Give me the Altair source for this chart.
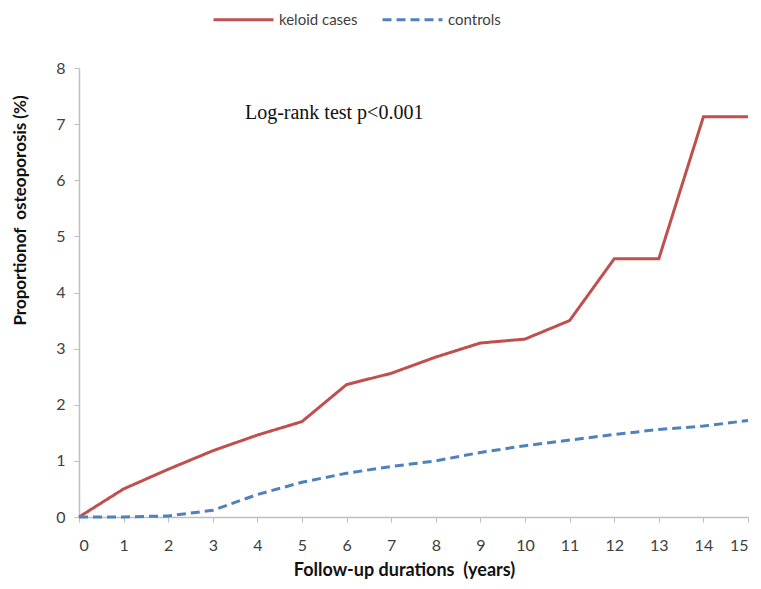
import altair as alt
import pandas as pd

years = list(range(16))
keloid = [0, 0.5, 0.85, 1.18, 1.46, 1.7, 2.36, 2.56, 2.85, 3.1, 3.17, 3.5, 4.6, 4.6, 7.13, 7.13]
controls = [0, 0, 0.02, 0.12, 0.4, 0.62, 0.78, 0.9, 1.0, 1.15, 1.27, 1.37, 1.47, 1.56, 1.62, 1.72]
series_names = ["keloid cases", "controls"]
annot_text = ["Log-rank test p<0.001"]
annot_x = [3.72]
annot_y = [7.2]

rows = []
for i, yr in enumerate(years):
    rows.append({"year": yr, "value": keloid[i], "group": series_names[0]})
    rows.append({"year": yr, "value": controls[i], "group": series_names[1]})
df = pd.DataFrame(rows)

lines = alt.Chart(df).mark_line(strokeWidth=3).encode(
    x=alt.X("year:Q", scale=alt.Scale(domain=[0, 15], nice=False),
            axis=alt.Axis(values=years, title="Follow-up durations\u00a0\u00a0(years)",
                          grid=False, titlePadding=8, labelPadding=15, format="d",
                          titleFontSize=18, titleX=325)),
    y=alt.Y("value:Q", scale=alt.Scale(domain=[0, 8], nice=False),
            axis=alt.Axis(values=list(range(9)), title="Proportionof\u00a0\u00a0osteoporosis (%)",
                          grid=False, titlePadding=26, labelPadding=9, format="d",
                          titleFontSize=17, titleY=142)),
    color=alt.Color("group:N", scale=alt.Scale(domain=series_names, range=["#C0504D", "#4F81BD"]),
                    legend=alt.Legend(title=None, orient="none", legendX=133, legendY=-80,
                                      direction="horizontal", symbolType="stroke",
                                      symbolSize=3600, symbolStrokeWidth=3,
                                      labelFontSize=15, labelFont="Lato", labelColor="#404040",
                                      columnPadding=18, labelOffset=4)),
    strokeDash=alt.StrokeDash("group:N", scale=alt.Scale(domain=series_names, range=[[1, 0], [9, 5]]),
                              legend=None),
)

annot = alt.Chart(pd.DataFrame({"x": annot_x, "y": annot_y, "t": annot_text})).mark_text(
    align="left", baseline="middle", font="Liberation Serif", fontSize=20, color="#111111"
).encode(x="x:Q", y="y:Q", text="t:N")

chart = (lines + annot).properties(
    width=669, height=449,
    autosize=alt.AutoSizeParams(type="none"),
    padding={"left": 71, "top": 60, "right": 5, "bottom": 64},
).configure_view(stroke=None).configure_axis(
    domainColor="#BFBFBF", tickColor="#BFBFBF", tickSize=5, domainWidth=1.5,
    labelFont="Lato", labelFontSize=16, labelColor="#404040",
    titleFont="Lato", titleFontWeight="bold", titleColor="#111111",
)

chart.save("out.html", embed_options={"renderer": "svg", "actions": False})
